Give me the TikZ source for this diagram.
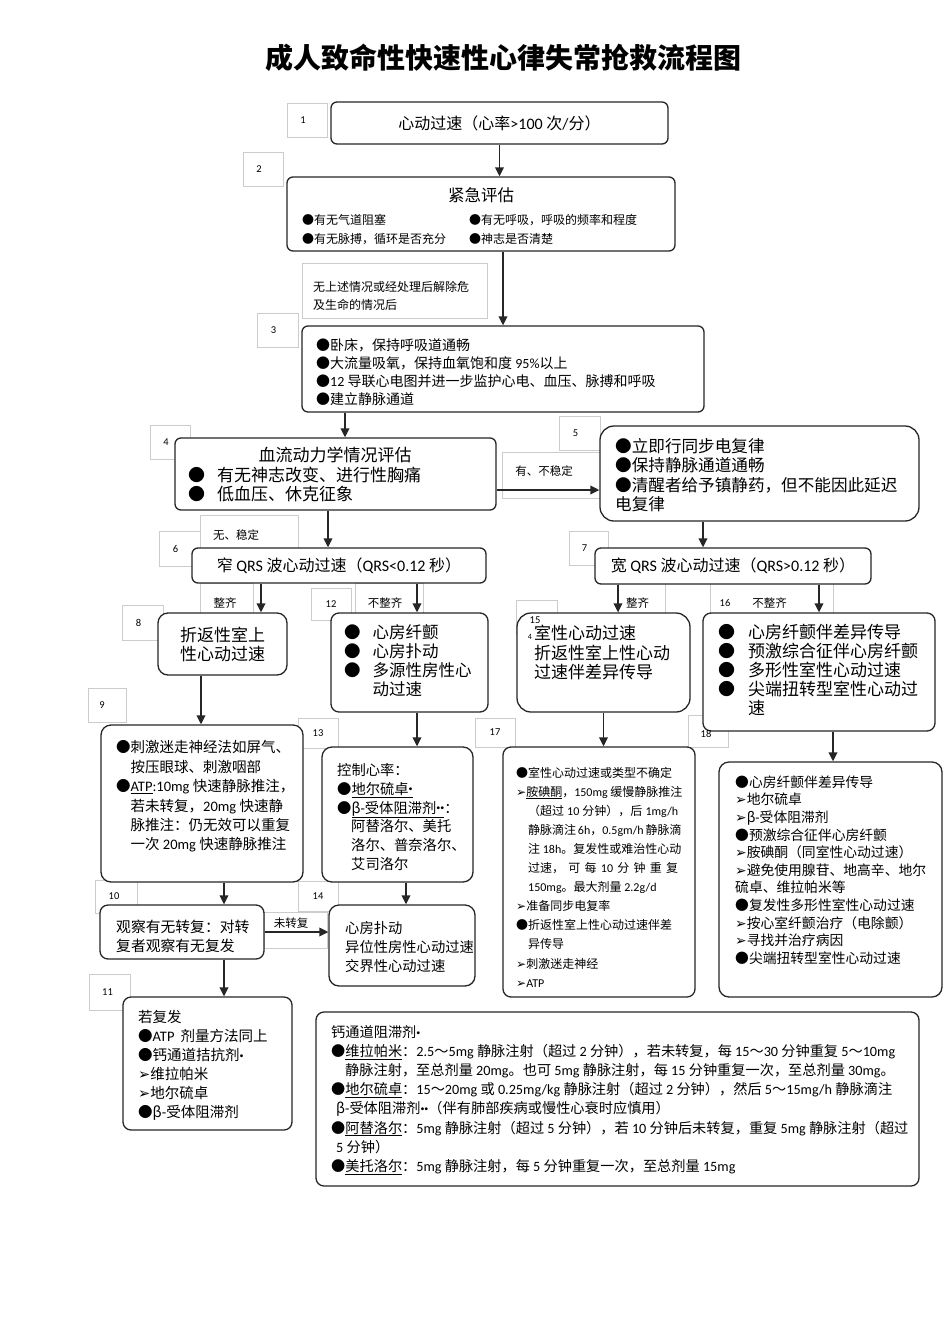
\documentclass[tikz,border=0pt]{standalone}
\usepackage{fontspec}
\usetikzlibrary{arrows.meta}
\setmainfont{Noto Sans CJK SC}
\newfontfamily\cjkf{Noto Sans CJK SC}
\newfontfamily\latf{Carlito}
\newfontfamily\dvf{DejaVu Sans}
\XeTeXinterchartokenstate=1
\newXeTeXintercharclass\latcls
\newXeTeXintercharclass\dvcls
\count255=33
\loop \XeTeXcharclass\count255=\latcls \ifnum\count255<126 \advance\count255 by 1 \repeat
\XeTeXcharclass"2022=\latcls
\XeTeXcharclass"27A2=\dvcls
\XeTeXinterchartoks 0 \latcls = {\latf}
\XeTeXinterchartoks 4095 \latcls = {\latf}
\XeTeXinterchartoks \latcls 0 = {\cjkf}
\XeTeXinterchartoks 4095 0 = {\cjkf}
\XeTeXinterchartoks 0 \dvcls = {\dvf}
\XeTeXinterchartoks 4095 \dvcls = {\dvf}
\XeTeXinterchartoks \latcls \dvcls = {\dvf}
\XeTeXinterchartoks \dvcls 0 = {\cjkf}
\XeTeXinterchartoks \dvcls \latcls = {\latf}
\newcommand\fz[2]{\fontsize{#1}{#2}\selectfont}
\newcommand\sdot{\raisebox{2.5pt}{\fontsize{8}{9}\selectfont •}}
\begin{document}
\begin{tikzpicture}[x=1pt,y=-1pt,
  box/.style={draw=black!85, line width=1.3pt, rounded corners=6pt, fill=white, inner sep=0pt},
  lbl/.style={draw=black!20, line width=0.6pt, inner sep=0pt, font=\fz{10.5}{12}},
  txt/.style={inner sep=0pt, align=left, anchor=west},
  arr/.style={draw=black!85, line width=1.8pt, -{Triangle[length=9pt,width=8.5pt]}},
  cl/.style={inner sep=0pt, font=\fz{11.5}{14}}]
\fill[white] (0,0) rectangle (950,1344);
\useasboundingbox (0,0) rectangle (950,1344);

% title
\node[font=\bfseries\fz{28}{32}, inner sep=0pt] (title) at (503,58) {成人致命性快速性心律失常抢救流程图};

% light label boxes
\node[lbl, minimum width=40pt, minimum height=34pt] (l1) at (307,120) {1\hspace*{8pt}};
\node[lbl, minimum width=40pt, minimum height=34pt] (l2) at (263,169) {2\hspace*{8pt}};
\node[lbl, minimum width=41pt, minimum height=34pt] (l3) at (277.5,330) {3\hspace*{8pt}};
\node[lbl, minimum width=40pt, minimum height=34pt] (l4) at (170,442) {4\hspace*{8pt}};
\node[lbl, minimum width=41pt, minimum height=34pt] (l5) at (579.5,433) {5\hspace*{8pt}};
\node[lbl, minimum width=41pt, minimum height=35pt] (l6) at (179.5,548.5) {6\hspace*{8pt}};
\node[lbl, minimum width=39pt, minimum height=34pt] (l7) at (588.5,548) {7\hspace*{8pt}};
\node[lbl, minimum width=41pt, minimum height=35pt] (l8) at (142.5,622.5) {8\hspace*{8pt}};
\node[lbl, minimum width=38pt, minimum height=34pt] (l9) at (107,705) {9\hspace*{10pt}};
\node[lbl, minimum width=42pt, minimum height=33pt] (l10) at (116,896.5) {10\hspace*{4pt}};
\node[lbl, minimum width=41pt, minimum height=36pt] (l11) at (109.5,992) {11\hspace*{4pt}};
\node[lbl, minimum width=40pt, minimum height=32pt] (l12) at (331,604) {12};
\node[lbl, minimum width=40pt, minimum height=30pt] (l13) at (318,733) {13};
\node[lbl, minimum width=40pt, minimum height=30pt] (l14) at (318,896) {14};
\node[lbl, minimum width=41pt, minimum height=34pt] (l15) at (536.5,617) {};
\node[lbl, minimum width=40pt, minimum height=29pt] (l17) at (495,732.5) {17};
\node[lbl, minimum width=40pt, minimum height=32pt] (l18) at (708,731) {};
\node[lbl, minimum width=185pt, minimum height=55pt] (lt1) at (394.5,290.5) {};
\node[lbl, minimum width=98pt, minimum height=46pt] (lt2) at (551,475) {};
\node[lbl, minimum width=98pt, minimum height=47pt] (lt3) at (249,538.5) {};
\node[lbl, minimum width=53pt, minimum height=30pt] (lt4) at (226.5,598) {};
\node[lbl, minimum width=68pt, minimum height=30pt] (lt5) at (389,598) {};
\node[lbl, minimum width=47pt, minimum height=30pt] (lt6) at (641.5,598) {};
\node[lbl, minimum width=123pt, minimum height=30pt] (lt7) at (771.5,598) {};
\node[lbl, minimum width=63pt, minimum height=36pt] (lt8) at (295.5,930) {};

% main boxes
\node[box, minimum width=337pt, minimum height=42pt, font=\fz{16}{18}] (b1) at (499.5,123) {心动过速（心率>100 次/分）};
\node[box, minimum width=388pt, minimum height=74pt] (b2) at (481,214) {};
\node[box, minimum width=402pt, minimum height=86pt] (b3) at (503,369) {};
\node[box, minimum width=321pt, minimum height=72pt] (b4) at (335.5,474) {};
\node[box, rounded corners=14pt, minimum width=319pt, minimum height=95pt] (b5) at (759.5,473.5) {};
\node[box, minimum width=294pt, minimum height=35pt, font=\fz{16}{18}] (b6) at (339,565.5) {窄 QRS 波心动过速（QRS<0.12 秒）};
\node[box, minimum width=276pt, minimum height=36pt, font=\fz{16}{18}] (b7) at (733,566) {宽 QRS 波心动过速（QRS>0.12 秒）};
\node[box, rounded corners=10pt, minimum width=129pt, minimum height=62pt, font=\fz{17}{19}, align=center] (b8) at (222.5,644) {折返性室上\\性心动过速};
\node[box, rounded corners=8pt, minimum width=157pt, minimum height=99pt] (b12) at (409.5,662.5) {};
\node[box, rounded corners=14pt, minimum width=173pt, minimum height=99pt] (b15) at (603.5,662.5) {};
\node[box, rounded corners=8pt, minimum width=232pt, minimum height=118pt] (b16) at (819,672) {};
\node[box, rounded corners=10pt, minimum width=202pt, minimum height=157pt] (b9) at (202,803.5) {};
\node[box, rounded corners=10pt, minimum width=151pt, minimum height=135pt] (b13) at (397.5,814.5) {};
\node[box, rounded corners=8pt, minimum width=192pt, minimum height=250pt] (b17) at (599,872) {};
\node[box, rounded corners=10pt, minimum width=223pt, minimum height=235pt] (b18) at (830.5,879.5) {};
\node[box, rounded corners=8pt, minimum width=164pt, minimum height=54pt] (b10) at (182,932) {};
\node[box, rounded corners=10pt, minimum width=146pt, minimum height=81pt] (b14) at (402,945.5) {};
\node[box, rounded corners=8pt, minimum width=169pt, minimum height=133pt] (b11) at (207.5,1063.5) {};
\node[box, rounded corners=8pt, minimum width=603pt, minimum height=174pt] (b19) at (617.5,1099) {};

% connectors
\draw[arr] (b1.south) -- (b1.south |- b2.north);
\draw[arr] (b3.north |- b2.south) -- (b3.north);
\coordinate (c34) at ([xshift=9.5pt]b4.north);
\draw[arr] (c34 |- b3.south) -- (c34);
\coordinate (c45) at ([yshift=-16pt]b4.east);
\draw[arr] (c45) -- (c45 -| b5.west);
\coordinate (c46) at ([xshift=-7.5pt]b4.south);
\draw[arr] (c46) -- (c46 |- b6.north);
\coordinate (c57) at ([xshift=-30pt]b7.north);
\draw[arr] (c57 |- b5.south) -- (c57);
\coordinate (c68) at ([xshift=38.5pt]b8.north);
\draw[arr] (c68 |- b6.south) -- (c68);
\coordinate (c612) at ([xshift=7.5pt]b12.north);
\draw[arr] (c612 |- b6.south) -- (c612);
\coordinate (c715) at ([xshift=14.5pt]b15.north);
\draw[arr] (c715 |- b7.south) -- (c715);
\draw[arr] (b16.north |- b7.south) -- (b16.north);
\coordinate (c89) at ([xshift=-21.5pt]b8.south);
\draw[arr] (c89) -- (c89 |- b9.north);
\coordinate (c1213) at ([xshift=7.5pt]b12.south);
\draw[arr] (c1213) -- (c1213 |- b13.north);
\coordinate (c910) at ([xshift=42pt]b10.north);
\draw[arr] (c910 |- b9.south) -- (c910);
\coordinate (c1314) at ([xshift=4pt]b14.north);
\draw[arr] (c1314 |- b13.south) -- (c1314);
\draw[arr] (b10.east) -- (b10.east -| b14.west);
\coordinate (c1011) at ([xshift=42pt]b10.south);
\draw[arr] (c1011) -- (c1011 |- b11.north);
\draw[arr] (b15.south) -- (b15.south |- b17.north);
\coordinate (c1618) at ([xshift=2.5pt]b18.north);
\draw[arr] (c1618 |- b16.south) -- (c1618);

% connector labels
\node[cl, font=\fz{12}{18}, align=left, anchor=west] (lt1t) at (313,296) {无上述情况或经处理后解除危\\及生命的情况后};
\node[cl] (lt2t) at (544,471) {有、不稳定};
\node[cl] (lt3t) at (236,535) {无、稳定};
\node[cl] (lt4t) at (225,603) {整齐};
\node[cl] (lt5t) at (385,603) {不整齐};
\node[cl] (lt6t) at (637.5,603) {整齐};
\node[cl, font=\fz{10.5}{12}] (n16) at (725,603) {16};
\node[cl] (lt7t) at (769.5,603) {不整齐};
\node[cl] (lt8t) at (291,923) {未转复};
\node[cl, font=\fz{10.5}{12}] (n18) at (706,734) {18};

% box texts
\node[inner sep=0pt, font=\fz{16.5}{20}] (b2t) at (481,195) {紧急评估};
\node[txt, font=\fz{12}{19}] (b2l) at (302,229.5) {●有无气道阻塞\\●有无脉搏，循环是否充分};
\node[txt, font=\fz{12}{19}] (b2r) at (469,229.5) {●有无呼吸，呼吸的频率和程度\\●神志是否清楚};
\node[txt, font=\fz{14}{17.8}] (b3t) at (316,372) {●卧床，保持呼吸道通畅\\●大流量吸氧，保持血氧饱和度 95\%以上\\●12 导联心电图并进一步监护心电、血压、脉搏和呼吸\\●建立静脉通道};
\node[inner sep=0pt, font=\fz{17}{20}] (b4t) at (335,455) {血流动力学情况评估};
\node[txt, font=\fz{17}{19.5}] (b4b) at (188,484.5) {●\hspace{12pt}有无神志改变、进行性胸痛\\●\hspace{12pt}低血压、休克征象};
\node[txt, font=\fz{16.6}{19.3}] (b5t) at (615,475) {●立即行同步电复律\\●保持静脉通道通畅\\●清醒者给予镇静药，但不能因此延迟\\电复律};
\node[txt, font=\fz{16.5}{19}] (b12t) at (344,660.5) {●\hspace{12pt}心房纤颤\\●\hspace{12pt}心房扑动\\●\hspace{12pt}多源性房性心\\\hspace*{28.5pt}动过速};
\node[inner sep=0pt, font=\fz{10.5}{12}] (n15) at (535,620) {15};
\node[inner sep=0pt, font=\fz{8}{9}] (n4) at (530,637) {4};
\node[txt, font=\fz{17}{19.3}] (b15t) at (534,652.5) {室性心动过速\\折返性室上性心动\\过速伴差异传导};
\node[txt, font=\fz{17}{19}] (b16t) at (718,670) {●\hspace{13pt}心房纤颤伴差异传导\\●\hspace{13pt}预激综合征伴心房纤颤\\●\hspace{13pt}多形性室性心动过速\\●\hspace{13pt}尖端扭转型室性心动过\\\hspace*{30pt}速};
\node[txt, font=\fz{14.5}{19.4}] (b9t) at (116,796.5) {●刺激迷走神经法如屏气、\\\hspace*{14.5pt}按压眼球、刺激咽部\\●\underline{ATP}:10mg 快速静脉推注，\\\hspace*{14.5pt}若未转复，20mg 快速静\\\hspace*{14.5pt}脉推注：仍无效可以重复\\\hspace*{14.5pt}一次 20mg 快速静脉推注};
\node[txt, font=\fz{14.3}{18.8}] (b13t) at (337,817) {控制心率：\\●\underline{地尔硫卓\sdot}\\●\underline{β-受体阻滞剂\sdot\sdot}：\\\hspace*{14pt}阿替洛尔、美托\\\hspace*{14pt}洛尔、普奈洛尔、\\\hspace*{14pt}艾司洛尔};
\node[txt, font=\fz{12}{19.1}] (b17t) at (516,877) {●室性心动过速或类型不确定\\➢\underline{胺碘酮}，150mg 缓慢静脉推注\\\hspace*{12pt}\makebox[150pt][s]{（超过 10 分钟），后 1mg/h}\\\hspace*{12pt}\makebox[150pt][s]{静脉滴注 6h，0.5gm/h 静脉滴}\\\hspace*{12pt}注 18h。复发性或难治性心动\\\hspace*{12pt}\makebox[150pt][s]{过速， 可 每 10 分 钟 重 复}\\\hspace*{12pt}150mg。最大剂量 2.2g/d\\➢准备同步电复率\\●折返性室上性心动过速伴差\\\hspace*{12pt}异传导\\➢刺激迷走神经\\➢ATP};
\node[txt, font=\fz{13.8}{17.6}] (b18t) at (735,870) {●心房纤颤伴差异传导\\➢地尔硫卓\\➢β-受体阻滞剂\\●预激综合征伴心房纤颤\\➢胺碘酮（同室性心动过速）\\➢避免使用腺苷、地高辛、地尔\\硫卓、维拉帕米等\\●复发性多形性室性心动过速\\➢按心室纤颤治疗（电除颤）\\➢寻找并治疗病因\\●尖端扭转型室性心动过速};
\node[txt, font=\fz{14.8}{19}] (b10t) at (116,936) {观察有无转复：对转\\复者观察有无复发};
\node[txt, font=\fz{14.3}{19.3}] (b14t) at (345,947) {心房扑动\\异位性房性心动过速\\交界性心动过速};
\node[txt, font=\fz{14.5}{19}] (b11t) at (138,1065.5) {若复发\\●ATP\hspace{6pt}剂量方法同上\\●钙通道拮抗剂\sdot\\➢维拉帕米\\➢地尔硫卓\\●β-受体阻滞剂};
\node[txt, font=\fz{14.2}{19.1}] (b19t) at (331,1100) {钙通道阻滞剂\sdot\\●\underline{维拉帕米}：2.5～5mg 静脉注射（超过 2 分钟），若未转复，每 15～30 分钟重复 5～10mg\\\hspace*{14pt}静脉注射，至总剂量 20mg。也可 5mg 静脉注射，每 15 分钟重复一次，至总剂量 30mg。\\●\underline{地尔硫卓}：15～20mg 或 0.25mg/kg 静脉注射（超过 2 分钟），然后 5～15mg/h 静脉滴注\\\hspace*{5pt}β-受体阻滞剂\sdot\sdot（伴有肺部疾病或慢性心衰时应慎用）\\●\underline{阿替洛尔}：5mg 静脉注射（超过 5 分钟），若 10 分钟后未转复，重复 5mg 静脉注射（超过\\\hspace*{5pt}5 分钟）\\●\underline{美托洛尔}：5mg 静脉注射，每 5 分钟重复一次，至总剂量 15mg};
\end{tikzpicture}
\end{document}
